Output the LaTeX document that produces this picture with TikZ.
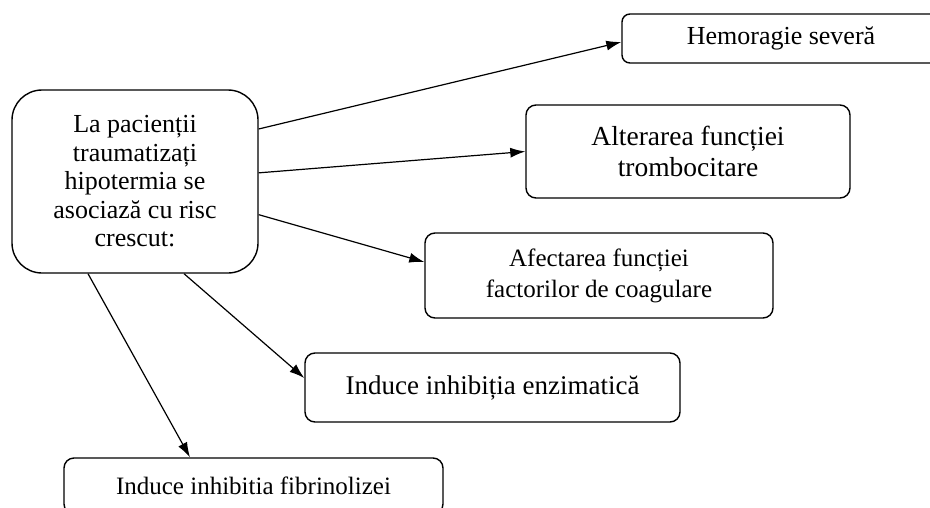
\documentclass[tikz,border=0pt]{standalone}
\usepackage{fontspec}
\setmainfont{Liberation Serif}
\usetikzlibrary{arrows.meta}
\newcommand{\fs}[1]{\fontsize{#1}{31}\selectfont}
\begin{document}
\begin{tikzpicture}[x=1pt,y=-1pt,
  box/.style={draw, line width=1.4pt, rounded corners=10pt, inner sep=0pt, align=center},
  arr/.style={line width=1.2pt, -{Latex[length=15pt,width=10pt]}}]
\clip (0,0) rectangle (930,507);
\fill[white] (0,0) rectangle (930,507);
\node[box, rounded corners=30pt, minimum width=246pt, minimum height=183pt,
  font=\fontsize{26}{28.5}\selectfont] (main) at (135,181.5)
  {La pacienții\\traumatizați\\hipotermia se\\asociază cu risc\\crescut:};
\node[box, rounded corners=8pt, minimum width=318pt, minimum height=49pt, font=\fs{26}] (hemo) at (781,38.5) {Hemoragie severă};
\node[box, minimum width=324pt, minimum height=93pt, font=\fs{27.5}] (alt) at (688,151.5) {Alterarea funcției\\trombocitare};
\node[box, minimum width=348pt, minimum height=85pt, font=\fs{25}] (afe) at (599,275.5) {Afectarea funcției\\factorilor de coagulare};
\node[box, minimum width=375pt, minimum height=69pt, font=\fs{27}] (enz) at (492.5,387.5) {Induce inhibiția enzimatică};
\node[box, minimum width=379pt, minimum height=56pt, font=\fs{25}] (fib) at (253.5,486) {Induce inhibitia fibrinolizei};
\draw[arr] (main.23.5) -- ([yshift=-3.5pt]hemo.west);
\draw[arr] (main.4.4) -- (alt.west);
\draw[arr] (main.-15.2) -- ([yshift=13.5pt]afe.west);
\draw[arr] (main.-62.3) -- ([yshift=9.5pt]enz.west);
\draw[arr] (main.-117.2) -- ([xshift=-63.5pt]fib.north);
\end{tikzpicture}
\end{document}
